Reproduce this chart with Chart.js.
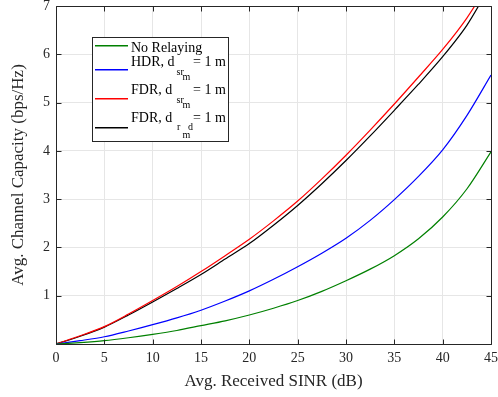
<!DOCTYPE html>
<html>
<head>
<meta charset="utf-8">
<script src="https://cdn.jsdelivr.net/npm/chart.js@4"></script>
<style>
  html, body { margin: 0; padding: 0; background: #fff; }
  #wrap { width: 498px; height: 397px; }
</style>
</head>
<body>
<div id="wrap"><canvas id="cap_chart" width="498" height="397"></canvas></div>
<script>
// SINR (dB) sample points
var sinr = [0, 2.5, 5, 7.5, 10, 12.5, 15, 17.5, 20, 22.5, 25, 27.5, 30, 32.5, 35, 37.5, 40, 42.5, 45];

var noRelaying = [0, 0.03, 0.07, 0.13, 0.20, 0.28, 0.38, 0.48, 0.60, 0.74, 0.90, 1.09, 1.31, 1.55, 1.83, 2.18, 2.63, 3.21, 3.98];
var hdr        = [0, 0.07, 0.15, 0.27, 0.40, 0.54, 0.70, 0.89, 1.10, 1.34, 1.60, 1.88, 2.19, 2.56, 2.99, 3.47, 4.02, 4.73, 5.57];
var fdrSr      = [0, 0.17, 0.36, 0.62, 0.90, 1.19, 1.50, 1.83, 2.17, 2.55, 2.96, 3.42, 3.91, 4.43, 4.97, 5.53, 6.10, 6.75, 7.55];
var fdrRd      = [0, 0.16, 0.35, 0.60, 0.87, 1.15, 1.44, 1.76, 2.08, 2.46, 2.87, 3.32, 3.80, 4.31, 4.84, 5.38, 5.95, 6.60, 7.45];

var seriesColors = ['#008000', '#0000ff', '#ff0000', '#000000'];

// legend text pieces: [text, x offset from text start, baseline shift, font size]
var legendLabels = [
  [['No Relaying', 0, 0, 14]],
  [['HDR, d', 0, 0, 14], ['sr', 45.5, 9, 10], ['m', 51.5, 14, 10], ['= 1 m', 62, 0, 14]],
  [['FDR, d', 0, 0, 14], ['sr', 45.5, 9, 10], ['m', 51.5, 14, 10], ['= 1 m', 62, 0, 14]],
  [['FDR, d', 0, 0, 14], ['r', 46, 8, 10], ['m', 51.5, 16, 10], ['d', 57, 8, 10], ['= 1 m', 62, 0, 14]]
];

var xTicks = [0, 5, 10, 15, 20, 25, 30, 35, 40, 45];
var yTicks = [0, 1, 2, 3, 4, 5, 6, 7];

var serif = '"Liberation Serif", "Times New Roman", serif';

function pts(vals) {
  return vals.map(function (v, i) { return { x: sinr[i], y: v }; });
}

function mkSet(label, vals, color) {
  return {
    label: label,
    data: pts(vals),
    borderColor: color,
    backgroundColor: color,
    borderWidth: 1.2,
    pointRadius: 0,
    fill: false,
    tension: 0.3
  };
}

// box around the plot with inward ticks on every side (MATLAB style)
var boxPlugin = {
  id: 'boxTicks',
  afterDatasetsDraw: function (chart) {
    var ctx = chart.ctx, a = chart.chartArea;
    var xs = chart.scales.x, ys = chart.scales.y;
    var L = Math.round(a.left) + 0.5, R = Math.round(a.right) + 0.5;
    var T = Math.round(a.top) + 0.5, B = Math.round(a.bottom) + 0.5;
    ctx.save();
    ctx.strokeStyle = '#262626';
    ctx.lineWidth = 1;
    ctx.beginPath();
    ctx.rect(L, T, R - L, B - T);
    xTicks.forEach(function (t) {
      var px = Math.round(xs.getPixelForValue(t)) + 0.5;
      ctx.moveTo(px, B); ctx.lineTo(px, B - 5);
      ctx.moveTo(px, T); ctx.lineTo(px, T + 5);
    });
    yTicks.forEach(function (t) {
      var py = Math.round(ys.getPixelForValue(t)) + 0.5;
      ctx.moveTo(L, py); ctx.lineTo(L + 5, py);
      ctx.moveTo(R, py); ctx.lineTo(R - 5, py);
    });
    ctx.stroke();

    // legend box
    var bx = 92.5, by = 37.5, bw = 136, bh = 104;
    ctx.fillStyle = '#fff';
    ctx.fillRect(bx, by, bw, bh);
    ctx.strokeStyle = '#262626';
    ctx.strokeRect(bx, by, bw, bh);

    // legend sample lines
    var lineY = [45, 69, 98, 127];
    var baseY = [52, 66, 94, 122];
    for (var i = 0; i < legendLabels.length; i++) {
      ctx.fillStyle = seriesColors[i];
      ctx.fillRect(95, lineY[i], 33, 1.5);
    }
    // legend text
    ctx.fillStyle = '#000';
    ctx.textBaseline = 'alphabetic';
    ctx.textAlign = 'left';
    for (var j = 0; j < legendLabels.length; j++) {
      legendLabels[j].forEach(function (p) {
        ctx.font = p[3] + 'px ' + serif;
        ctx.fillText(p[0], 131 + p[1], baseY[j] + p[2]);
      });
    }
    ctx.restore();
  }
};

var config = {
  type: 'line',
  data: {
    datasets: [
      mkSet('No Relaying', noRelaying, seriesColors[0]),
      mkSet('HDR', hdr, seriesColors[1]),
      mkSet('FDR sr', fdrSr, seriesColors[2]),
      mkSet('FDR rd', fdrRd, seriesColors[3])
    ]
  },
  options: {
    responsive: false,
    animation: false,
    layout: { padding: { top: 6, right: 7, left: 0, bottom: 0 } },
    plugins: {
      legend: { display: false },
      tooltip: { enabled: false }
    },
    scales: {
      x: {
        type: 'linear',
        min: 0,
        max: 45,
        afterBuildTicks: function (s) { s.ticks = xTicks.map(function (v) { return { value: v }; }); },
        afterFit: function (s) { s.height = 53; s.paddingLeft = 0; s.paddingRight = 0; },
        ticks: { color: '#262626', padding: 6, font: { family: serif, size: 14 }, maxRotation: 0 },
        grid: { color: '#e6e6e6', drawTicks: false, tickLength: 0 },
        border: { display: false },
        title: {
          display: true,
          text: 'Avg. Received SINR (dB)',
          color: '#262626',
          font: { family: serif, size: 17 },
          padding: { top: 0, bottom: 5 }
        }
      },
      y: {
        min: 0,
        max: 7,
        afterBuildTicks: function (s) { s.ticks = yTicks.map(function (v) { return { value: v }; }); },
        afterFit: function (s) { s.width = 56; s.paddingTop = 0; s.paddingBottom = 0; },
        ticks: {
          color: '#262626',
          padding: 6,
          font: { family: serif, size: 14 },
          callback: function (v) { return v === 0 ? '' : v; }
        },
        grid: { color: '#e6e6e6', drawTicks: false, tickLength: 0 },
        border: { display: false },
        title: {
          display: true,
          text: 'Avg. Channel Capacity (bps/Hz)',
          color: '#262626',
          font: { family: serif, size: 17 },
          padding: { top: 8, bottom: 0 }
        }
      }
    }
  },
  plugins: [boxPlugin]
};

var capChart = new Chart(document.getElementById('cap_chart'), config);
</script>
</body>
</html>
